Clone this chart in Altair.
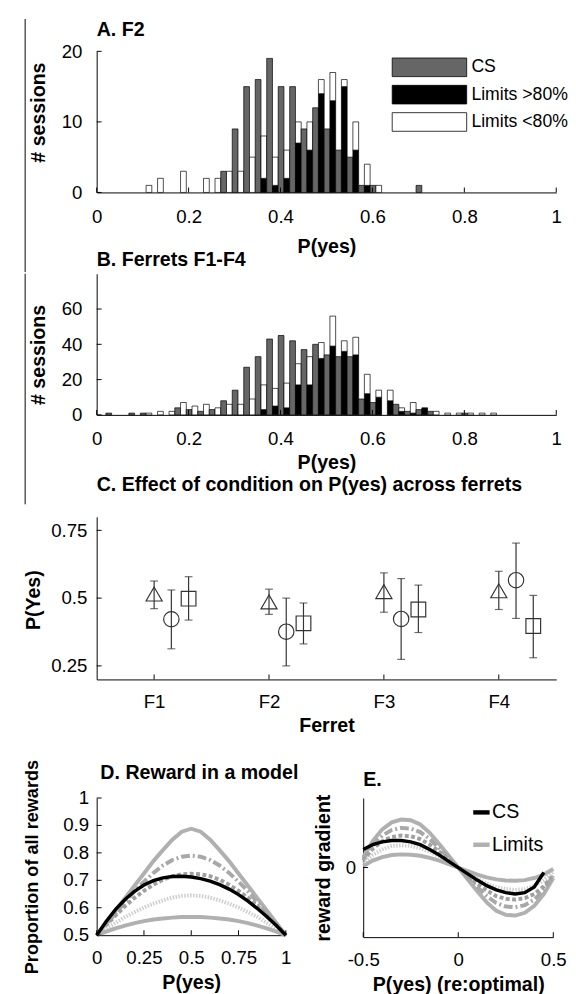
import altair as alt
import pandas as pd

FONT = "Liberation Sans"

# ---------------- Panels A / B : histograms ----------------
BIN_START = 0.02
BIN_W = 0.025
A_CS = [0,0,0,0,0,0,0,0,0,0, 3,9,15,16,19,15,15,9,12,9, 6,5,1,1,0,0,0,1,0,0, 0,0,0,0]
A_HI = [0,0,0,0,0,0,0,0,0,0, 0,0,0,2,1,2,7,6,14,13, 15,6,1,0,0,0,0,0,0,0, 0,0,0,0]
A_LO = [0,0,0,1,2,0,3,0,2,2, 3,3,5,6,4,4,3,4,2,4, 1,4,3,1,0,0,0,0,0,0, 0,0,0,0]
B_CS = [1,0,1,1,0,0,4,3,2,3, 8,14,27,33,43,45,42,37,40,34, 33,33,9,7,0,6,2,3,2,0, 0,1,0,0]
B_HI = [0,0,0,0,0,0,0,0,0,0, 0,0,0,3,5,4,17,17,32,39, 36,34,12,10,8,2,1,4,0,0, 0,0,0,0]
B_LO = [0,0,0,1,2,2,7,5,6,4, 6,6,9,14,10,14,12,16,9,17, 6,10,11,4,6,2,6,0,2,1, 1,1,1,1]
HIST_XTICKS = [0, 0.2, 0.4, 0.6, 0.8, 1]
A_YTICKS = [0, 10, 20]
B_YTICKS = [0, 20, 40, 60]
PARTS = ["CS", "Limits >80%", "Limits <80%"]
PART_FILLS = ["#666666", "#000000", "#ffffff"]

# ---------------- Panel C : condition effect ----------------
FERRETS = ["F1", "F2", "F3", "F4"]
C_CONDS = ["CS", "Limits >80%", "Limits <80%"]
C_MEAN = {"CS": [0.515, 0.486, 0.524, 0.527],
          "Limits >80%": [0.422, 0.376, 0.423, 0.566],
          "Limits <80%": [0.498, 0.407, 0.458, 0.397]}
C_LOW = {"CS": [0.461, 0.440, 0.448, 0.458],
         "Limits >80%": [0.313, 0.250, 0.274, 0.425],
         "Limits <80%": [0.419, 0.331, 0.373, 0.280]}
C_HIGH = {"CS": [0.563, 0.533, 0.593, 0.599],
          "Limits >80%": [0.530, 0.500, 0.572, 0.703],
          "Limits <80%": [0.579, 0.482, 0.548, 0.510]}
C_DODGE = {"CS": 0.0, "Limits >80%": 0.15, "Limits <80%": 0.30}
C_SHAPES = ["triangle-up", "circle", "square"]
C_SIZES = [270, 225, 144]

# ---------------- Panel D : reward in a model ----------------
D_X = [0, 0.05, 0.1, 0.15, 0.2, 0.25, 0.3, 0.35, 0.4, 0.45, 0.5,
       0.55, 0.6, 0.65, 0.7, 0.75, 0.8, 0.85, 0.9, 0.95, 1]
D_TOP = [0.5, 0.545, 0.59, 0.635, 0.68, 0.725, 0.77, 0.81, 0.848, 0.877, 0.888,
         0.877, 0.848, 0.81, 0.77, 0.725, 0.68, 0.635, 0.59, 0.545, 0.5]
D_DASHDOT = [0.5, 0.54, 0.58, 0.62, 0.66, 0.695, 0.727, 0.754, 0.774, 0.786, 0.79,
             0.786, 0.774, 0.754, 0.727, 0.695, 0.66, 0.62, 0.58, 0.54, 0.5]
D_DASHED = [0.5, 0.537, 0.572, 0.606, 0.636, 0.662, 0.684, 0.702, 0.715, 0.722, 0.724,
            0.722, 0.715, 0.702, 0.684, 0.662, 0.636, 0.606, 0.572, 0.537, 0.5]
D_DOTTED = [0.5, 0.523, 0.545, 0.566, 0.584, 0.601, 0.615, 0.627, 0.637, 0.643, 0.645,
            0.643, 0.637, 0.627, 0.615, 0.601, 0.584, 0.566, 0.545, 0.523, 0.5]
D_BOTTOM = [0.5, 0.513, 0.525, 0.535, 0.544, 0.551, 0.557, 0.561, 0.564, 0.566, 0.566,
            0.566, 0.564, 0.561, 0.557, 0.551, 0.544, 0.535, 0.525, 0.513, 0.5]
D_CS = [0.5, 0.55, 0.594, 0.63, 0.66, 0.683, 0.699, 0.709, 0.714, 0.715, 0.712,
        0.706, 0.697, 0.684, 0.668, 0.648, 0.624, 0.597, 0.567, 0.535, 0.5]
D_XTICKS = [0, 0.25, 0.5, 0.75, 1]
D_YTICKS = [0.5, 0.6, 0.7, 0.8, 0.9, 1]
D_YLABELS = ["0.5", "0.6", "0.7", "0.8", "0.9", "1"]

# ---------------- Panel E : reward gradient ----------------
E_X = [-0.5, -0.45, -0.4, -0.35, -0.3, -0.25, -0.2, -0.15, -0.1, -0.05, 0,
       0.05, 0.1, 0.15, 0.2, 0.25, 0.3, 0.35, 0.4, 0.45, 0.5]
E_OUTER = [0.15, 0.38, 0.55, 0.65, 0.69, 0.68, 0.62, 0.5, 0.34, 0.17, 0,
           -0.17, -0.34, -0.5, -0.62, -0.68, -0.69, -0.65, -0.55, -0.38, -0.15]
E_DASHDOT = [0.12, 0.32, 0.46, 0.54, 0.57, 0.56, 0.51, 0.41, 0.28, 0.14, 0,
             -0.14, -0.28, -0.41, -0.51, -0.56, -0.57, -0.54, -0.46, -0.32, -0.12]
E_DASHED = [0.1, 0.27, 0.38, 0.44, 0.46, 0.45, 0.41, 0.33, 0.23, 0.12, 0,
            -0.12, -0.23, -0.33, -0.41, -0.45, -0.46, -0.44, -0.38, -0.27, -0.1]
E_DOTTED = [0.06, 0.18, 0.26, 0.31, 0.32, 0.31, 0.28, 0.23, 0.16, 0.08, 0,
            -0.08, -0.16, -0.23, -0.28, -0.31, -0.32, -0.31, -0.26, -0.18, -0.06]
E_INNER = [0.02, 0.1, 0.15, 0.18, 0.19, 0.185, 0.17, 0.14, 0.1, 0.05, 0,
           -0.05, -0.1, -0.14, -0.17, -0.185, -0.19, -0.18, -0.15, -0.1, -0.02]
E_CS = [0.26, 0.33, 0.37, 0.39, 0.39, 0.37, 0.33, 0.26, 0.18, 0.09, 0,
        -0.09, -0.18, -0.26, -0.32, -0.36, -0.38, -0.36, -0.28, -0.07]
E_XTICKS = [-0.5, 0, 0.5]
E_YTICKS = [0]
E_LEGEND = ["CS", "Limits"]

GRAY_STYLES = [
    ("#b0b0b0", 4, None),
    ("#a8a8a8", 4, [9, 3, 2, 3]),
    ("#a0a0a0", 4, [4, 2.5]),
    ("#cdcdcd", 4, [1.5, 1.5]),
    ("#b0b0b0", 4, None),
]

NUM_EXPR = "'' + datum.value"
ONE = pd.DataFrame({"a": [0]})


def txt(s, x, y, size=20, bold=True, align="left"):
    return alt.Chart(ONE).mark_text(
        text=s, align=align, baseline="middle", fontSize=size,
        fontWeight="bold" if bold else "normal", font=FONT, color="black",
    ).encode(x=alt.value(x), y=alt.value(y))


def vline(x, y1, y2):
    return alt.Chart(ONE).mark_rule(color="black", strokeWidth=1).encode(
        x=alt.value(x), y=alt.value(y1), y2=alt.value(y2))


def pad(x, y):
    # tiny white rule that only fixes the layout bounds of a panel
    return alt.Chart(ONE).mark_rule(color="white", strokeWidth=1).encode(
        x=alt.value(x), y=alt.value(y), y2=alt.value(y + 1))


def in_xticks(values, domain, height):
    return alt.Chart(pd.DataFrame({"tv": values})).mark_rule(color="black", strokeWidth=1).encode(
        x=alt.X("tv:Q", scale=alt.Scale(domain=domain, nice=False, zero=False)),
        y=alt.value(height), y2=alt.value(height - 5))


def in_yticks(values, domain):
    return alt.Chart(pd.DataFrame({"tw": values})).mark_rule(color="black", strokeWidth=1).encode(
        y=alt.Y("tw:Q", scale=alt.Scale(domain=domain, nice=False, zero=False)),
        x=alt.value(0), x2=alt.value(5))


def x_axis(values, title, pad_, title_y, expr=NUM_EXPR):
    return alt.Axis(values=values, title=title, labelPadding=pad_, titleY=title_y,
                    titleBaseline="middle", labelExpr=expr, labelOverlap=False,
                    labelFlush=False)


def y_axis(values, title, pad_, title_x, title_y, labels=True, title_size=20):
    return alt.Axis(values=values, title=title, labelPadding=pad_, titleX=title_x,
                    titleY=title_y, titleBaseline="alphabetic", titleAngle=270,
                    titleAlign="center", labelExpr=NUM_EXPR, labelOverlap=False,
                    labels=labels, titleFontSize=title_size)


def hist_df(cs, hi, lo):
    rows = []
    for k in range(len(cs)):
        left = BIN_START + k * BIN_W
        mid = left + BIN_W / 2
        right = left + BIN_W
        if cs[k] > 0:
            rows.append({"x0": left, "x1": mid, "y0": 0, "y1": cs[k], "part": "CS"})
        if hi[k] > 0:
            rows.append({"x0": mid, "x1": right, "y0": 0, "y1": hi[k], "part": "Limits >80%"})
        if lo[k] > 0:
            rows.append({"x0": mid, "x1": right, "y0": hi[k], "y1": hi[k] + lo[k], "part": "Limits <80%"})
    return pd.DataFrame(rows)


HW, HH = 469, 144
LX = -73  # x of the left border line / layout pads, relative to the A/B/C plot left


def hist_bars(df, ymax, yticks, title_y_x, title_y_y, xt_title_y):
    return alt.Chart(df).mark_rect(stroke="black", strokeWidth=0.7).encode(
        x=alt.X("x0:Q", scale=alt.Scale(domain=[0, 1], nice=False, zero=False),
                axis=x_axis(HIST_XTICKS, "P(yes)", 15.5, xt_title_y)),
        x2="x1:Q",
        y=alt.Y("y1:Q", scale=alt.Scale(domain=[0, ymax], nice=False),
                axis=y_axis(yticks, "# sessions", 15, title_y_x, title_y_y)),
        y2="y0:Q",
        fill=alt.Fill("part:N", scale=alt.Scale(domain=PARTS, range=PART_FILLS), legend=None),
    )


# ----- Panel A -----
legend_layers = []
for i, (lab, fill) in enumerate(zip(PARTS, PART_FILLS)):
    cy = 16.3 + i * 27.9
    legend_layers.append(
        alt.Chart(ONE).mark_rect(fill=fill, stroke="black", strokeWidth=0.8).encode(
            x=alt.value(301.6), x2=alt.value(377.6), y=alt.value(cy - 9.5), y2=alt.value(cy + 9.5)))
    legend_layers.append(txt(lab, 382.4, cy, size=18, bold=False))

panelA = alt.layer(
    hist_bars(hist_df(A_CS, A_HI, A_LO), 20, A_YTICKS, -53, 62, 55.3),
    in_xticks(HIST_XTICKS, [0, 1], HH),
    in_yticks(A_YTICKS, [0, 20]),
    vline(LX, -33, 225.3),
    txt("A. F2", 0, -22),
    txt("B. Ferrets F1-F4", 0, 212.6),
    *legend_layers,
).properties(width=HW, height=HH)

# ----- Panel B -----
panelB = alt.layer(
    hist_bars(hist_df(B_CS, B_HI, B_LO), 80, B_YTICKS, -53, 82.3, 49),
    in_xticks(HIST_XTICKS, [0, 1], HH),
    in_yticks(B_YTICKS, [0, 80]),
    vline(LX, 0, 235.3),
    txt("C. Effect of condition on P(yes) across ferrets", 0, 216),
    pad(LX, 244.7),
).properties(width=HW, height=HH)

# ----- Panel C -----
c_rows = []
for cond in C_CONDS:
    for fi in range(len(FERRETS)):
        c_rows.append({"cond": cond, "xp": fi + 1 + C_DODGE[cond],
                       "m": C_MEAN[cond][fi], "lo": C_LOW[cond][fi], "hi": C_HIGH[cond][fi]})
dfC = pd.DataFrame(c_rows)
CH = 166
cx = alt.X("xp:Q", scale=alt.Scale(domain=[0.5, 4.5], nice=False, zero=False),
           axis=x_axis([1, 2, 3, 4], "Ferret", 13.4, 47.3, expr="'F' + datum.value"))
cy_scale = alt.Scale(domain=[0.2, 0.8], nice=False, zero=False)
c_base = alt.Chart(dfC)
c_err = c_base.mark_rule(color="#333333", strokeWidth=1.2).encode(
    x=cx, y=alt.Y("lo:Q", scale=cy_scale,
                  axis=y_axis([0.25, 0.5, 0.75], "P(Yes)", 10, -58.5, 84.6)),
    y2="hi:Q")
c_cap_lo = c_base.mark_tick(color="#333333", orient="horizontal", size=8, thickness=1.2).encode(
    x=alt.X("xp:Q"), y=alt.Y("lo:Q"))
c_cap_hi = c_base.mark_tick(color="#333333", orient="horizontal", size=8, thickness=1.2).encode(
    x=alt.X("xp:Q"), y=alt.Y("hi:Q"))
c_pts = c_base.mark_point(filled=False, color="#333333", strokeWidth=1.2, opacity=1).encode(
    x=alt.X("xp:Q"), y=alt.Y("m:Q"),
    shape=alt.Shape("cond:N", scale=alt.Scale(domain=C_CONDS, range=C_SHAPES), legend=None),
    size=alt.Size("cond:N", scale=alt.Scale(domain=C_CONDS, range=C_SIZES), legend=None))
panelC = alt.layer(
    c_err, c_cap_lo, c_cap_hi, c_pts,
    in_xticks([1, 2, 3, 4], [0.5, 4.5], CH),
    in_yticks([0.25, 0.5, 0.75], [0.2, 0.8]),
    pad(LX, 0),
    pad(LX, 228.6),
).properties(width=HW, height=CH)

# ----- Panel D -----
DW, DH = 193, 140
d_layers = []
d_curves = [D_TOP, D_DASHDOT, D_DASHED, D_DOTTED, D_BOTTOM]
for i, (ys, (col, w, dash)) in enumerate(zip(d_curves, GRAY_STYLES)):
    mk = dict(color=col, strokeWidth=w)
    if dash:
        mk["strokeDash"] = dash
    if i == 0:
        enc_x = alt.X("x:Q", scale=alt.Scale(domain=[0, 1], nice=False, zero=False),
                      axis=x_axis(D_XTICKS, "P(yes)", 13.5, 48))
        enc_y = alt.Y("y:Q", scale=alt.Scale(domain=[0.5, 1], nice=False, zero=False),
                      axis=y_axis(D_YTICKS, "Proportion of all rewards", 7.7, -60.5, 70,
                                  labels=False, title_size=18.5))
    else:
        enc_x = alt.X("x:Q")
        enc_y = alt.Y("y:Q")
    d_layers.append(alt.Chart(pd.DataFrame({"x": D_X, "y": ys})).mark_line(**mk).encode(x=enc_x, y=enc_y))
d_layers.append(alt.Chart(pd.DataFrame({"x": D_X, "y": D_CS})).mark_line(color="black", strokeWidth=3.5).encode(
    x=alt.X("x:Q"), y=alt.Y("y:Q")))
d_ylabels = alt.Chart(pd.DataFrame({"lv": D_YTICKS, "lt": D_YLABELS})).mark_text(
    align="right", baseline="middle", fontSize=19, font=FONT, color="black"
).encode(y=alt.Y("lv:Q"), x=alt.value(-7.7), text="lt:N")
panelD = alt.layer(
    *d_layers,
    d_ylabels,
    in_xticks(D_XTICKS, [0, 1], DH),
    in_yticks(D_YTICKS, [0.5, 1]),
    txt("D. Reward in a model", 104.8, -25, align="center"),
    pad(-84.7, -55),
    pad(207.3, 0),
).properties(width=DW, height=DH)

# ----- Panel E -----
EW, EH = 194, 142
e_layers = []
e_curves = [E_OUTER, E_DASHDOT, E_DASHED, E_DOTTED, E_INNER]
for i, (ys, (col, w, dash)) in enumerate(zip(e_curves, GRAY_STYLES)):
    mk = dict(color=col, strokeWidth=w)
    if dash:
        mk["strokeDash"] = dash
    if i == 0:
        enc_x = alt.X("x:Q", scale=alt.Scale(domain=[-0.5, 0.5], nice=False, zero=False),
                      axis=x_axis(E_XTICKS, "P(yes) (re:optimal)", 13.5, 48))
        enc_y = alt.Y("y:Q", scale=alt.Scale(domain=[-1, 1], nice=False, zero=False),
                      axis=y_axis(E_YTICKS, "reward gradient", 7.7, -34.7, 71))
    else:
        enc_x = alt.X("x:Q")
        enc_y = alt.Y("y:Q")
    e_layers.append(alt.Chart(pd.DataFrame({"x": E_X, "y": ys})).mark_line(**mk).encode(x=enc_x, y=enc_y))
e_layers.append(alt.Chart(pd.DataFrame({"x": E_X[:len(E_CS)], "y": E_CS})).mark_line(
    color="black", strokeWidth=3.5).encode(x=alt.X("x:Q"), y=alt.Y("y:Q")))
e_leg = []
for i, (lab, col) in enumerate(zip(E_LEGEND, ["black", "#b0b0b0"])):
    yy = 14.7 + i * 33
    e_leg.append(alt.Chart(ONE).mark_rule(color=col, strokeWidth=4.5).encode(
        x=alt.value(112.3), x2=alt.value(129), y=alt.value(yy)))
    e_leg.append(txt(lab, 131.5, yy, size=20, bold=False))
panelE = alt.layer(
    *e_layers,
    in_xticks(E_XTICKS, [-0.5, 0.5], EH),
    in_yticks(E_YTICKS, [-1, 1]),
    txt("E.", 0, -18.3),
    *e_leg,
    pad(-62.7, -53.3),
).properties(width=EW, height=EH)

row = alt.hconcat(panelD, panelE, spacing=0)

chart = alt.vconcat(panelA, panelB, panelC, row, spacing=0).properties(
    padding={"left": 4.5, "top": 0, "right": 0, "bottom": 0}
).configure_view(stroke=None).configure_axis(
    grid=False, ticks=False, domainColor="black", domainWidth=1,
    labelColor="black", titleColor="black", labelFont=FONT, titleFont=FONT,
    labelFontSize=19, titleFontSize=20, titleFontWeight="bold",
    labelFlush=False, labelOverlap=False,
)

chart.save("out.html", embed_options={"renderer": "svg", "actions": False})
